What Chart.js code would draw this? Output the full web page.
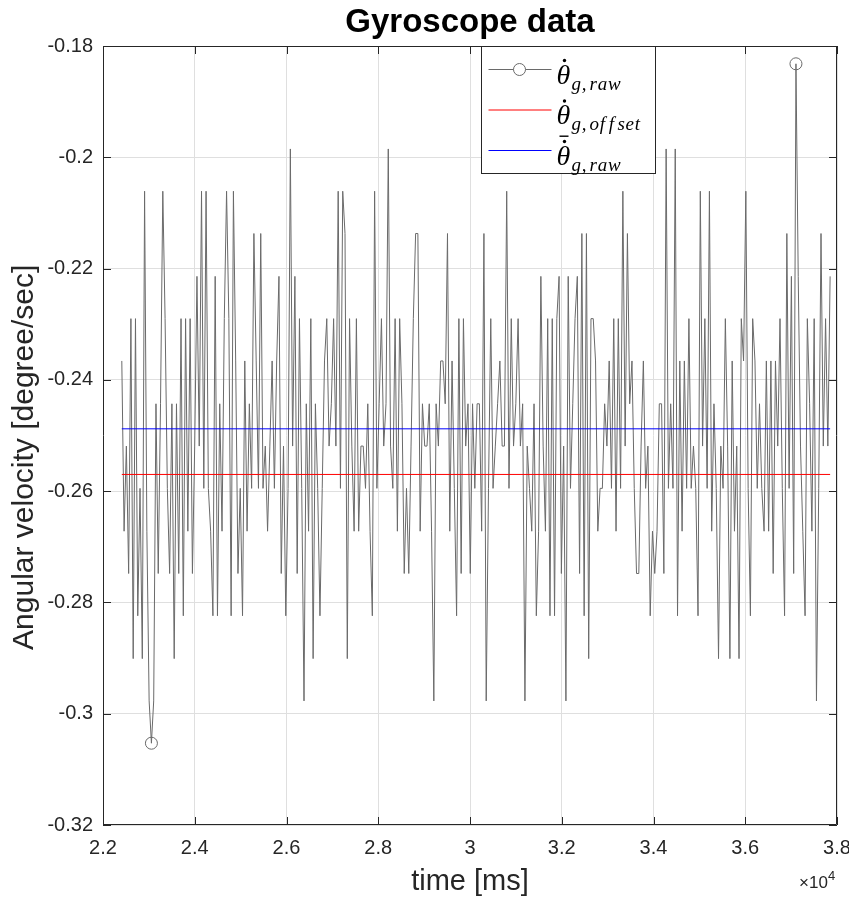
<!DOCTYPE html>
<html>
<head>
<meta charset="utf-8">
<title>Gyroscope data</title>
<script src="https://cdn.jsdelivr.net/npm/chart.js@4.4.1/dist/chart.umd.min.js"></script>
<style>
  body { margin: 0; background: #fff; }
  canvas { display: block; }
</style>
</head>
<body>
<canvas id="gyroChart" width="849" height="901"></canvas>
<script>
// gyro readings [deg/s] left to right
var rawVals = [
  -0.2366, -0.2672, -0.2519, -0.2748, -0.2290, -0.2901, -0.2290, -0.2824, -0.2595, -0.2901,
  -0.2061, -0.2672, -0.2977, -0.3053, -0.2977, -0.2443, -0.2748, -0.2443, -0.2061, -0.2290,
  -0.2595, -0.2748, -0.2443, -0.2901, -0.2443, -0.2748, -0.2290, -0.2824, -0.2290, -0.2672,

  -0.2290, -0.2748, -0.2519, -0.2214, -0.2519, -0.2061, -0.2595, -0.2061, -0.2595, -0.2672,
  -0.2824, -0.2214, -0.2824, -0.2443, -0.2672, -0.2290, -0.2061, -0.2290, -0.2824, -0.2061,
  -0.2366, -0.2748, -0.2595, -0.2824, -0.2366, -0.2672, -0.2443, -0.2595, -0.2137, -0.2366,
  -0.2595, -0.2137,

  -0.2595, -0.2519, -0.2672, -0.2519, -0.2366, -0.2595, -0.2366, -0.2214, -0.2748, -0.2519,
  -0.2824, -0.2595, -0.1985, -0.2519, -0.2214, -0.2748, -0.2290, -0.2595, -0.2977, -0.2443,
  -0.2672, -0.2290, -0.2901, -0.2443, -0.2595, -0.2824, -0.2595, -0.2366, -0.2290, -0.2519,
  -0.2443,

  -0.2290, -0.2519, -0.2061, -0.2595, -0.2061, -0.2137, -0.2901, -0.2290, -0.2519, -0.2672,
  -0.2290, -0.2672, -0.2519, -0.2519, -0.2595, -0.2443, -0.2672, -0.2824, -0.2061, -0.2595,
  -0.2443, -0.2290, -0.2519, -0.2443, -0.1985, -0.2519, -0.2595, -0.2290, -0.2672, -0.2290,
  -0.2443, -0.2748,

  -0.2595, -0.2748, -0.2519, -0.2290, -0.2137, -0.2137, -0.2672, -0.2443, -0.2519, -0.2519,
  -0.2443, -0.2672, -0.2977, -0.2443, -0.2519, -0.2366, -0.2366, -0.2443, -0.2137, -0.2672,
  -0.2366, -0.2595, -0.2824, -0.2290, -0.2748, -0.2290, -0.2519, -0.2443, -0.2748, -0.2443,
  -0.2595, -0.2443,

  -0.2443, -0.2672, -0.2137, -0.2977, -0.2595, -0.2290, -0.2595, -0.2519, -0.2443, -0.2366,
  -0.2519, -0.2519, -0.2061, -0.2595, -0.2290, -0.2519, -0.2443, -0.2290, -0.2519, -0.2443,
  -0.2977, -0.2519, -0.2595, -0.2672, -0.2443, -0.2824, -0.2672, -0.2214, -0.2519, -0.2672,
  -0.2290, -0.2824,

  -0.2290, -0.2824, -0.2290, -0.2214, -0.2748, -0.2519, -0.2977, -0.2214, -0.2595, -0.2443,
  -0.2290, -0.2214, -0.2748, -0.2137, -0.2824, -0.2137, -0.2901, -0.2290, -0.2290, -0.2366,
  -0.2672, -0.2595, -0.2595, -0.2443, -0.2519, -0.2366, -0.2595, -0.2290, -0.2672, -0.2290,
  -0.2595, -0.2061,

  -0.2519, -0.2137, -0.2443, -0.2366, -0.2595, -0.2748, -0.2748, -0.2519, -0.2366, -0.2595,
  -0.2519, -0.2824, -0.2672, -0.2748, -0.2672, -0.2443, -0.2443, -0.2748, -0.1985, -0.2595,
  -0.2443, -0.2595, -0.1985, -0.2824, -0.2366, -0.2672, -0.2366, -0.2595, -0.2290, -0.2595,
  -0.2519,

  -0.2595, -0.2824, -0.2061, -0.2519, -0.2290, -0.2595, -0.2061, -0.2672, -0.2443, -0.2595,
  -0.2901, -0.2519, -0.2595, -0.2290, -0.2519, -0.2901, -0.2366, -0.2672, -0.2519, -0.2901,
  -0.2290, -0.2366, -0.2061, -0.2595, -0.2824, -0.2290, -0.2366, -0.2595, -0.2443, -0.2595,
  -0.2672, -0.2366,

  -0.2672, -0.2366, -0.2748, -0.2366, -0.2519, -0.2290, -0.2595, -0.2824, -0.2137, -0.2595,
  -0.2214, -0.2748, -0.1832, -0.2214, -0.2519, -0.2672, -0.2824, -0.2290, -0.2443, -0.2672,
  -0.2290, -0.2977, -0.2595, -0.2137, -0.2519, -0.2290, -0.2519, -0.2214
];

// time span of the recording [ms]
var tStart = 22410;
var tEnd = 37850;

var offsetVal = -0.2570;   // gyro offset
var meanVal = -0.2488;     // mean of raw readings

var xTicks = [22000, 24000, 26000, 28000, 30000, 32000, 34000, 36000, 38000];
var yTicks = [-0.32, -0.30, -0.28, -0.26, -0.24, -0.22, -0.20, -0.18];

var axisCol = "#262626";
var gridCol = "#dfdfdf";
var sans = "'Liberation Sans', Arial, sans-serif";
var serif = "'Liberation Serif', 'DejaVu Serif', serif";

// samples are equally spaced over the recording
var dt = (tEnd - tStart) / (rawVals.length - 1);
var rawPts = rawVals.map(function (v, i) { return {x: tStart + i * dt, y: v}; });

// circles only on the min and max sample (like MarkerIndices in matlab)
var iMin = rawVals.indexOf(Math.min.apply(null, rawVals));
var iMax = rawVals.indexOf(Math.max.apply(null, rawVals));

// box + inward ticks on all four sides, title and ylabel
var boxPlugin = {
    id: "box",
    afterDatasetsDraw: function (chart) {
        var ctx = chart.ctx, a = chart.chartArea;
        var sx = chart.scales.x, sy = chart.scales.y;
        var tl = 8;
        ctx.save();
        ctx.strokeStyle = axisCol;
        ctx.lineWidth = 1;
        ctx.beginPath();
        ctx.rect(Math.round(a.left) + 0.5, Math.round(a.top) + 0.5, Math.round(a.width) - 1, Math.round(a.height) - 1);
        xTicks.forEach(function (t) {
            var px = Math.round(sx.getPixelForValue(t)) + 0.5;
            ctx.moveTo(px, a.bottom); ctx.lineTo(px, a.bottom - tl);
            ctx.moveTo(px, a.top); ctx.lineTo(px, a.top + tl);
        });
        yTicks.forEach(function (t) {
            var py = Math.round(sy.getPixelForValue(t)) + 0.5;
            ctx.moveTo(a.left, py); ctx.lineTo(a.left + tl, py);
            ctx.moveTo(a.right, py); ctx.lineTo(a.right - tl, py);
        });
        ctx.stroke();

        // title
        ctx.fillStyle = "#000";
        ctx.textAlign = "center";
        ctx.textBaseline = "middle";
        ctx.font = "bold 33px " + sans;
        ctx.fillText("Gyroscope data", (a.left + a.right) / 2, 23);

        // y label
        ctx.save();
        ctx.fillStyle = axisCol;
        ctx.translate(25, a.top + a.height * 0.528);
        ctx.rotate(-Math.PI / 2);
        ctx.font = "30px " + sans;
        ctx.fillText("Angular velocity [degree/sec]", 0, 0);
        ctx.restore();

        // x10^4 exponent label under the right end of the x axis
        ctx.fillStyle = axisCol;
        ctx.textBaseline = "alphabetic";
        ctx.textAlign = "left";
        ctx.font = "17px " + sans;
        ctx.fillText("\u00d710", a.right - 38, a.bottom + 63);
        ctx.font = "13px " + sans;
        ctx.fillText("4", a.right - 9, a.bottom + 55);
        ctx.restore();
    }
};

// legend with the theta symbols, drawn by hand
function drawTheta(ctx, x, base, sub, bar) {
    ctx.font = "italic 28px " + serif;
    ctx.fillText("\u03b8", x, base);
    ctx.beginPath();
    ctx.arc(x + 8, base - 23, 1.7, 0, Math.PI * 2);
    ctx.fill();
    if (bar) {
        ctx.fillRect(x + 3, base - 29, 9, 1.4);
    }
    ctx.font = "italic 19px " + serif;
    var cx = x + 15;
    for (var i = 0; i < sub.length; i++) {
        ctx.fillText(sub[i], cx, base + 6);
        var gap = 0.8;
        if (sub[i] === ",") gap = 3;
        if (sub[i] === "f") gap = 3.5;
        cx += ctx.measureText(sub[i]).width + gap;
    }
}

var legendPlugin = {
    id: "thetaLegend",
    afterDraw: function (chart) {
        var ctx = chart.ctx, a = chart.chartArea;
        var L = Math.round(a.left) + 378.5, T = Math.round(a.top) + 0.5, W = 174, H = 127;
        ctx.save();
        ctx.fillStyle = "#fff";
        ctx.fillRect(L, T, W, H);
        ctx.strokeStyle = axisCol;
        ctx.lineWidth = 1;
        ctx.strokeRect(L, T, W, H);

        var rows = [
            {col: "#6a6a6a", sub: "g,raw", bar: false, mark: true},
            {col: "#ff0000", sub: "g,offset", bar: false, mark: false},
            {col: "#0000ff", sub: "g,raw", bar: true, mark: false}
        ];
        rows.forEach(function (r, i) {
            var y = T + 23 + i * 40.5;
            ctx.strokeStyle = r.col;
            ctx.lineWidth = 1;
            ctx.beginPath();
            ctx.moveTo(L + 7, y); ctx.lineTo(L + 70, y);
            ctx.stroke();
            if (r.mark) {
                ctx.beginPath();
                ctx.arc(L + 38, y, 6, 0, Math.PI * 2);
                ctx.fillStyle = "#fff";
                ctx.fill();
                ctx.stroke();
            }
            ctx.fillStyle = "#000";
            ctx.textAlign = "left";
            ctx.textBaseline = "alphabetic";
            drawTheta(ctx, L + 75, y + 14, r.sub, r.bar);
        });
        ctx.restore();
    }
};

new Chart("gyroChart", {
    type: "line",
    data: {
        datasets: [{
            label: "raw",
            data: rawPts,
            borderColor: "#6a6a6a",
            borderWidth: 1,
            pointRadius: function (c) { return (c.dataIndex === iMin || c.dataIndex === iMax) ? 6 : 0; },
            pointBorderColor: "#6a6a6a",
            pointBackgroundColor: "rgba(0,0,0,0)",
            pointBorderWidth: 1,
            tension: 0,
            order: 3
        }, {
            label: "offset",
            data: [{x: tStart, y: offsetVal}, {x: tEnd, y: offsetVal}],
            borderColor: "#ff0000",
            borderWidth: 1,
            pointRadius: 0,
            order: 2
        }, {
            label: "mean",
            data: [{x: tStart, y: meanVal}, {x: tEnd, y: meanVal}],
            borderColor: "#0000ff",
            borderWidth: 1,
            pointRadius: 0,
            order: 1
        }]
    },
    options: {
        responsive: false,
        animation: false,
        devicePixelRatio: 1,
        layout: {padding: {top: 46, right: 12, bottom: 0, left: 0}},
        plugins: {
            legend: {display: false},
            tooltip: {enabled: false},
            title: {display: false}
        },
        scales: {
            x: {
                type: "linear",
                min: 22000,
                max: 38000,
                afterBuildTicks: function (s) { s.ticks = xTicks.map(function (v) { return {value: v}; }); },
                afterFit: function (s) { s.height = 76; s.paddingLeft = 0; s.paddingRight = 0; },
                ticks: {
                    color: axisCol,
                    font: {family: sans, size: 20},
                    padding: 11,
                    maxRotation: 0,
                    callback: function (v) { return String(+(v / 1e4).toFixed(1)); }
                },
                grid: {color: gridCol, drawTicks: false},
                border: {display: false},
                title: {
                    display: true,
                    text: "time [ms]",
                    color: axisCol,
                    font: {family: sans, size: 29, lineHeight: 1.2},
                    padding: {top: 0, bottom: 2}
                }
            },
            y: {
                min: -0.32,
                max: -0.18,
                afterBuildTicks: function (s) { s.ticks = yTicks.map(function (v) { return {value: v}; }); },
                afterFit: function (s) { s.width = 103; },
                ticks: {
                    color: axisCol,
                    font: {family: sans, size: 20},
                    padding: 10,
                    callback: function (v) { return String(+v.toFixed(2)); }
                },
                grid: {color: gridCol, drawTicks: false},
                border: {display: false},
                title: {display: false}
            }
        }
    },
    plugins: [boxPlugin, legendPlugin]
});
</script>
</body>
</html>
